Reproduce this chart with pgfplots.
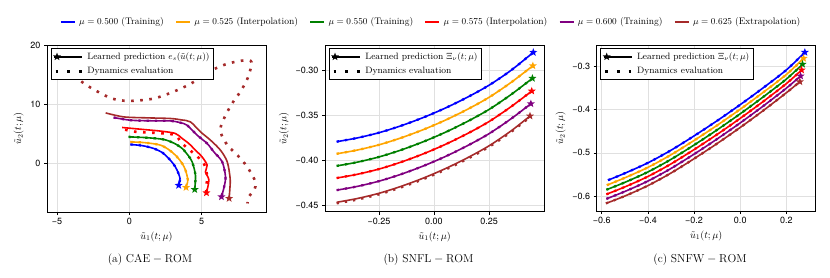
\documentclass[border=0pt]{standalone}
\usepackage{fontspec}
\newfontfamily\heros{TeX Gyre Heros}
\usepackage{pgfplots}
\usepackage{pgfplotstable}
\pgfplotsset{compat=1.18}
\definecolor{mblue}{RGB}{0,0,255}
\definecolor{morange}{RGB}{255,165,0}
\definecolor{mgreen}{RGB}{0,128,0}
\definecolor{mred}{RGB}{255,0,0}
\definecolor{mpurple}{RGB}{128,0,128}
\definecolor{mbrown}{RGB}{165,42,42}

\pgfdeclareplotmark{fstar}{%
  \pgfpathmoveto{\pgfpointpolar{90}{\pgfplotmarksize}}%
  \pgfpathlineto{\pgfpointpolar{126}{0.42*\pgfplotmarksize}}%
  \pgfpathlineto{\pgfpointpolar{162}{\pgfplotmarksize}}%
  \pgfpathlineto{\pgfpointpolar{198}{0.42*\pgfplotmarksize}}%
  \pgfpathlineto{\pgfpointpolar{234}{\pgfplotmarksize}}%
  \pgfpathlineto{\pgfpointpolar{270}{0.42*\pgfplotmarksize}}%
  \pgfpathlineto{\pgfpointpolar{306}{\pgfplotmarksize}}%
  \pgfpathlineto{\pgfpointpolar{342}{0.42*\pgfplotmarksize}}%
  \pgfpathlineto{\pgfpointpolar{18}{\pgfplotmarksize}}%
  \pgfpathlineto{\pgfpointpolar{54}{0.42*\pgfplotmarksize}}%
  \pgfpathclose
  \pgfusepathqfill}

% ---------- panel (a) data
\pgfplotstableread{
x y
0.07 3.2
0.9 3.0
1.68 2.53
2.3 1.8
2.72 0.84
3.05 -0.1
3.3 -1.13
3.5 -2.53
3.41 -3.7
}\aA
\pgfplotstableread{
x y
0.07 3.64
1.1 3.5
2.15 3.09
2.8 2.2
3.3 1.1
3.65 0.0
3.88 -1.13
4.04 -2.8
3.92 -4.05
}\aB
\pgfplotstableread{
x y
-0.05 4.49
1.2 4.35
2.37 4.05
3.1 3.4
3.65 2.53
4.05 1.4
4.34 0.27
4.57 -1.97
4.52 -4.4
}\aC
\pgfplotstableread{
x y
-0.5 6.07
0.99 5.73
2.2 5.45
3.18 5.06
3.65 4.22
4.11 3.37
4.57 2.24
5.03 1.1
5.38 -0.29
5.26 -1.42
5.5 -2.8
5.33 -4.96
}\aD
\pgfplotstableread{
x y
-0.3 5.7
0.42 5.35
1.5 5.2
2.37 5.06
3.18 4.77
3.65 3.37
4.45 1.69
5.15 0.0
5.38 -2.26
5.3 -4.2
5.33 -4.96
}\aDd
\pgfplotstableread{
x y
-1.09 7.76
0.07 7.3
1.5 7.2
2.84 7.18
3.5 6.9
3.99 6.46
4.69 4.77
5.38 3.37
5.84 1.96
6.42 0.27
6.65 -2.26
6.55 -4.0
6.37 -5.63
}\aE
\pgfplotstableread{
x y
-1.64 8.53
-0.39 7.86
1.2 7.7
2.84 7.59
3.6 7.35
4.22 7.02
4.92 5.33
5.61 3.93
6.3 2.24
6.77 0.27
6.97 -2.53
6.95 -4.3
6.9 -5.9
}\aF
\pgfplotstableread{
x y
-4.3 15.8
-3.28 13.76
-2.4 12.4
-1.2 10.96
-0.05 10.56
1.68 10.96
3.3 12.36
4.45 13.76
5.84 15.9
6.88 16.9
7.94 17.4
8.45 17.1
8.2 14.5
7.7 12.2
7.02 9.8
6.4 6.8
6.32 5.2
6.78 3.09
7.47 1.4
8.15 -0.57
8.72 -3.1
8.63 -4.5
8.26 -5.63
8.17 -6.75
}\aFd

% ---------- panel (b) data
\pgfplotstableread{
x y
-0.442 -0.3795
-0.35 -0.3754
-0.25 -0.3695
-0.15 -0.3618
-0.05 -0.3527
0.05 -0.3422
0.15 -0.3302
0.25 -0.3166
0.35 -0.3000
0.451 -0.2800
}\bA
\pgfplotstableread{
x y
-0.442 -0.3930
-0.35 -0.3889
-0.25 -0.3830
-0.15 -0.3753
-0.05 -0.3662
0.05 -0.3557
0.15 -0.3437
0.25 -0.3301
0.35 -0.3135
0.449 -0.2949
}\bB
\pgfplotstableread{
x y
-0.442 -0.4065
-0.35 -0.4024
-0.25 -0.3965
-0.15 -0.3888
-0.05 -0.3797
0.05 -0.3692
0.15 -0.3572
0.25 -0.3436
0.35 -0.3270
0.447 -0.3089
}\bC
\pgfplotstableread{
x y
-0.442 -0.4200
-0.35 -0.4159
-0.25 -0.4100
-0.15 -0.4023
-0.05 -0.3932
0.05 -0.3827
0.15 -0.3707
0.25 -0.3571
0.35 -0.3405
0.444 -0.3231
}\bD
\pgfplotstableread{
x y
-0.442 -0.4335
-0.35 -0.4294
-0.25 -0.4235
-0.15 -0.4158
-0.05 -0.4067
0.05 -0.3962
0.15 -0.3842
0.25 -0.3706
0.35 -0.3540
0.440 -0.3372
}\bE
\pgfplotstableread{
x y
-0.442 -0.4470
-0.35 -0.4429
-0.25 -0.4370
-0.15 -0.4293
-0.05 -0.4202
0.05 -0.4097
0.15 -0.3977
0.25 -0.3841
0.35 -0.3675
0.436 -0.3509
}\bF

% ---------- panel (c) data
\pgfplotstableread{
x y
-0.573 -0.563
-0.5 -0.547
-0.4 -0.523
-0.3 -0.494
-0.2 -0.461
-0.1 -0.426
0.0 -0.389
0.1 -0.350
0.2 -0.309
0.280 -0.2684
}\cA
\pgfplotstableread{
x y
-0.578 -0.5745
-0.5 -0.5575
-0.4 -0.5335
-0.3 -0.5045
-0.2 -0.4715
-0.1 -0.4365
0.0 -0.3995
0.1 -0.3605
0.2 -0.3195
0.2745 -0.2823
}\cB
\pgfplotstableread{
x y
-0.58 -0.585
-0.5 -0.568
-0.4 -0.544
-0.3 -0.515
-0.2 -0.482
-0.1 -0.447
0.0 -0.410
0.1 -0.371
0.2 -0.330
0.270 -0.296
}\cC
\pgfplotstableread{
x y
-0.58 -0.5955
-0.5 -0.5785
-0.4 -0.5545
-0.3 -0.5255
-0.2 -0.4925
-0.1 -0.4575
0.0 -0.4205
0.1 -0.3815
0.2 -0.3405
0.2658 -0.3092
}\cD
\pgfplotstableread{
x y
-0.58 -0.606
-0.5 -0.589
-0.4 -0.565
-0.3 -0.536
-0.2 -0.503
-0.1 -0.468
0.0 -0.431
0.1 -0.392
0.2 -0.351
0.2615 -0.323
}\cE
\pgfplotstableread{
x y
-0.582 -0.6165
-0.5 -0.5995
-0.4 -0.5755
-0.3 -0.5465
-0.2 -0.5135
-0.1 -0.4785
0.0 -0.4415
0.1 -0.4025
0.2 -0.3615
0.2584 -0.3362
}\cF

\pgfplotsset{
  myax/.style={
    scale only axis, anchor=south west,
    axis line style={black, line width=0.8pt},
    grid=major, grid style={black!12, line width=0.6pt},
    tick align=outside, major tick length=3pt,
    tick style={black, line width=0.6pt},
    xtick pos=bottom, ytick pos=left,
    ticklabel style={font=\heros\fontsize{9}{10}\selectfont},
    label style={font=\fontsize{10}{12}\selectfont},
    xlabel={$\tilde{u}_1(t;\mu)$},
    ylabel={$\tilde{u}_2(t;\mu)$},
    legend cell align=left,
    legend style={at={(0.017,0.98)}, anchor=north west, draw=black, line width=0.6pt, fill=white,
      font=\fontsize{9.2}{10}\selectfont, inner sep=2pt, row sep=2.5pt,
      /tikz/every odd column/.append style={column sep=1pt}},
  },
  lrn/.style={line width=1.6pt, smooth},
  dyn/.style={line width=2.3pt, dash pattern=on 2.3pt off 6pt, smooth},
  dynb/.style={line width=2.6pt, dash pattern=on 2.6pt off 6.5pt, smooth},
  stm/.style={only marks, mark=fstar, mark size=4.2pt},
  learnedleg/.style={legend image code/.code={
      \draw[black, line width=1.6pt] (0pt,0pt) -- (28pt,0pt);
      \draw[black] plot[mark=fstar, mark size=4.2pt] coordinates {(3pt,0pt)};}},
  dynleg/.style={legend image code/.code={
      \draw[black, line width=2.7pt, dash pattern=on 2.7pt off 9pt] (1.5pt,0pt) -- (29pt,0pt);}},
}

\begin{document}
\begin{tikzpicture}[x=1pt,y=1pt]
\useasboundingbox (0,0) rectangle (830,277);

% global legend
\begin{axis}[hide axis, scale only axis, anchor=south west, at={(0,0)},
  width=830pt, height=277pt, xmin=0, xmax=1, ymin=0, ymax=1,
  legend columns=6,
  legend style={at={(431/830,255/277)}, anchor=center, draw=none, fill=none,
    font=\fontsize{9.5}{11}\selectfont,
    /tikz/every even column/.append style={column sep=9pt},
    /tikz/every odd column/.append style={column sep=1pt}},
  legend image code/.code={\draw[#1] (0pt,0pt) -- (14pt,0pt);}]
\addlegendimage{mblue, line width=2.5pt}\addlegendentry{$\mu=0.500$ (Training)}
\addlegendimage{morange, line width=2.5pt}\addlegendentry{$\mu=0.525$ (Interpolation)}
\addlegendimage{mgreen, line width=2.5pt}\addlegendentry{$\mu=0.550$ (Training)}
\addlegendimage{mred, line width=2.5pt}\addlegendentry{$\mu=0.575$ (Interpolation)}
\addlegendimage{mpurple, line width=2.5pt}\addlegendentry{$\mu=0.600$ (Training)}
\addlegendimage{mbrown, line width=2.5pt}\addlegendentry{$\mu=0.625$ (Extrapolation)}
\end{axis}

% panel (a)
\begin{axis}[myax, at={(47pt,65pt)}, width=219pt, height=167pt,
  xmin=-5.7, xmax=9.45, ymin=-8.2, ymax=20,
  xtick={-5,0,5}, xticklabels={−5,0,5},
  ytick={0,10,20}, yticklabels={0,10,20}]
\addlegendimage{learnedleg}\addlegendentry{Learned prediction $e_s(\tilde{u}(t;\mu))$}
\addlegendimage{dynleg}\addlegendentry{Dynamics evaluation}
\addplot[mbrown, dynb, forget plot] table {\aFd};
\addplot[mblue, lrn, forget plot] table {\aA};
\addplot[mblue, dyn, forget plot] table {\aA};
\addplot[morange, lrn, forget plot] table {\aB};
\addplot[morange, dyn, forget plot] table {\aB};
\addplot[mgreen, lrn, forget plot] table {\aC};
\addplot[mgreen, dyn, forget plot] table {\aC};
\addplot[mred, lrn, forget plot] table {\aD};
\addplot[mred, dynb, forget plot] table {\aDd};
\addplot[mpurple, lrn, forget plot] table {\aE};
\addplot[mpurple, dyn, forget plot] table {\aE};
\addplot[mbrown, lrn, forget plot] table {\aF};
\addplot[mblue, stm, forget plot] coordinates {(3.41,-3.7)};
\addplot[morange, stm, forget plot] coordinates {(3.92,-4.05)};
\addplot[mgreen, stm, forget plot] coordinates {(4.52,-4.4)};
\addplot[mred, stm, forget plot] coordinates {(5.33,-4.96)};
\addplot[mpurple, stm, forget plot] coordinates {(6.37,-5.63)};
\addplot[mbrown, stm, forget plot] coordinates {(6.9,-5.9)};
\end{axis}

% panel (b)
\begin{axis}[myax, at={(325pt,65.3pt)}, width=219.3pt, height=166.7pt,
  xmin=-0.495, xmax=0.501, ymin=-0.4575, ymax=-0.2718,
  xtick={-0.25,0,0.25}, xticklabels={−0.25,0.00,0.25},
  ytick={-0.45,-0.40,-0.35,-0.30}, yticklabels={−0.45,−0.40,−0.35,−0.30}]
\addlegendimage{learnedleg}\addlegendentry{Learned prediction $\Xi_\nu(t;\mu)$}
\addlegendimage{dynleg}\addlegendentry{Dynamics evaluation}
\addplot[mblue, lrn, forget plot] table {\bA};
\addplot[mblue, dyn, forget plot] table {\bA};
\addplot[morange, lrn, forget plot] table {\bB};
\addplot[morange, dyn, forget plot] table {\bB};
\addplot[mgreen, lrn, forget plot] table {\bC};
\addplot[mgreen, dyn, forget plot] table {\bC};
\addplot[mred, lrn, forget plot] table {\bD};
\addplot[mred, dyn, forget plot] table {\bD};
\addplot[mpurple, lrn, forget plot] table {\bE};
\addplot[mpurple, dyn, forget plot] table {\bE};
\addplot[mbrown, lrn, forget plot] table {\bF};
\addplot[mbrown, dyn, forget plot] table[y expr=\thisrow{y}-0.0012] {\bF};
\addplot[mblue, stm, forget plot] coordinates {(0.451,-0.2800)};
\addplot[morange, stm, forget plot] coordinates {(0.449,-0.2949)};
\addplot[mgreen, stm, forget plot] coordinates {(0.447,-0.3089)};
\addplot[mred, stm, forget plot] coordinates {(0.444,-0.3231)};
\addplot[mpurple, stm, forget plot] coordinates {(0.440,-0.3372)};
\addplot[mbrown, stm, forget plot] coordinates {(0.436,-0.3509)};
\end{axis}

% panel (c)
\begin{axis}[myax, at={(596.7pt,66pt)}, width=219pt, height=166pt,
  xmin=-0.622, xmax=0.327, ymin=-0.634, ymax=-0.2516,
  xtick={-0.6,-0.4,-0.2,0,0.2}, xticklabels={−0.6,−0.4,−0.2,0.0,0.2},
  ytick={-0.6,-0.5,-0.4,-0.3}, yticklabels={−0.6,−0.5,−0.4,−0.3}]
\addlegendimage{learnedleg}\addlegendentry{Learned prediction $\Xi_\nu(t;\mu)$}
\addlegendimage{dynleg}\addlegendentry{Dynamics evaluation}
\addplot[mblue, lrn, forget plot] table {\cA};
\addplot[mblue, dyn, forget plot] table {\cA};
\addplot[morange, lrn, forget plot] table {\cB};
\addplot[morange, dyn, forget plot] table {\cB};
\addplot[mgreen, lrn, forget plot] table {\cC};
\addplot[mgreen, dyn, forget plot] table {\cC};
\addplot[mred, lrn, forget plot] table {\cD};
\addplot[mred, dyn, forget plot] table {\cD};
\addplot[mpurple, lrn, forget plot] table {\cE};
\addplot[mpurple, dyn, forget plot] table {\cE};
\addplot[mbrown, lrn, forget plot] table {\cF};
\addplot[mbrown, dyn, forget plot] table {\cF};
\addplot[mblue, stm, forget plot] coordinates {(0.280,-0.2684)};
\addplot[morange, stm, forget plot] coordinates {(0.2745,-0.2823)};
\addplot[mgreen, stm, forget plot] coordinates {(0.270,-0.296)};
\addplot[mred, stm, forget plot] coordinates {(0.2658,-0.3092)};
\addplot[mpurple, stm, forget plot] coordinates {(0.2615,-0.323)};
\addplot[mbrown, stm, forget plot] coordinates {(0.2584,-0.3362)};
\end{axis}

\node[font=\fontsize{11.5}{13}\selectfont] at (150,17) {(a) $\mathrm{CAE-ROM}$};
\node[font=\fontsize{11.5}{13}\selectfont] at (428.5,17) {(b) $\mathrm{SNFL-ROM}$};
\node[font=\fontsize{11.5}{13}\selectfont] at (700,17) {(c) $\mathrm{SNFW-ROM}$};
\end{tikzpicture}
\end{document}
